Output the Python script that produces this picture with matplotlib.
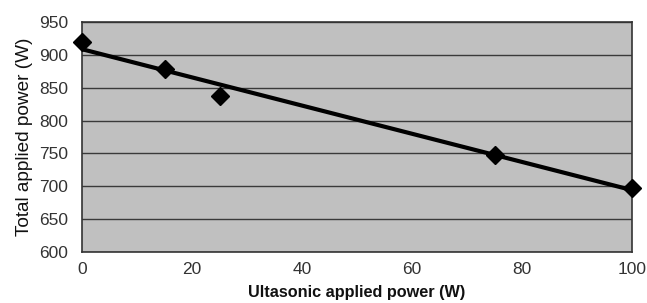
import numpy as np
import matplotlib
matplotlib.use("Agg")
import matplotlib.pyplot as plt

plt.rcParams['font.family'] = ['Liberation Sans', 'DejaVu Sans']

ultrasonic_power = [0, 15, 25, 75, 100]
total_power = [920, 878, 838, 748, 698]
x_ticks = [0, 20, 40, 60, 80, 100]
y_ticks = [600, 650, 700, 750, 800, 850, 900, 950]

fig = plt.figure(figsize=(6.47, 3.03), dpi=100)
ax = fig.add_axes([82/647, 1 - 252/303, 550/647, 230/303])
ax.set_facecolor('#c0c0c0')

coef = np.polyfit(ultrasonic_power, total_power, 1)
xf = np.array([min(ultrasonic_power), max(ultrasonic_power)])
ax.plot(xf, np.polyval(coef, xf), color='black', lw=3.0, zorder=3)
ax.plot(ultrasonic_power, total_power, linestyle='none', marker='D',
        color='black', markersize=9.5, zorder=4, clip_on=False)

ax.set_xlim(0, 100)
ax.set_ylim(600, 950)
ax.set_xticks(x_ticks)
ax.set_yticks(y_ticks)
ax.yaxis.grid(True, color='#3a3a3a', lw=1)
ax.set_axisbelow(True)
ax.tick_params(axis='y', length=0, labelsize=12.5, colors='#333333', pad=10)
ax.tick_params(axis='x', length=0, labelsize=12.5, colors='#333333', pad=7)
for s in ax.spines.values():
    s.set_color('#333333')
    s.set_linewidth(1.2)

ax.set_xlabel('Ultasonic applied power (W)', fontsize=11.7, fontweight='bold',
              labelpad=6, color='#111111')
ax.set_ylabel('Total applied power (W)', fontsize=13.7, labelpad=4, color='#111111')

fig.savefig('out.png', dpi=100)
